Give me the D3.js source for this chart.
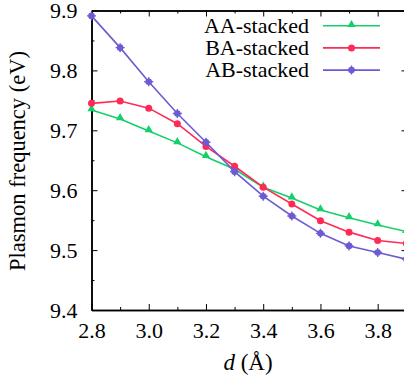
<!DOCTYPE html>
<html>
<head>
<meta charset="utf-8">
<script src="https://cdn.jsdelivr.net/npm/d3@7"></script>
<style>
  body { margin: 0; background: #fff; }
  svg text { font-family: "Liberation Serif" !important; }
</style>
</head>
<body>
<script>
var width = 404, height = 381

// interlayer distance d (Angstrom)
var dValues = [2.8, 2.9, 3.0, 3.1, 3.2, 3.3, 3.4, 3.5, 3.6, 3.7, 3.8, 3.9]
var aaStacked = [9.734, 9.719, 9.699, 9.679, 9.656, 9.635, 9.605, 9.587, 9.567, 9.554, 9.542, 9.531]
var baStacked = [9.745, 9.749, 9.737, 9.711, 9.673, 9.640, 9.605, 9.577, 9.549, 9.530, 9.516, 9.511]
var abStacked = [9.891, 9.838, 9.781, 9.728, 9.680, 9.631, 9.590, 9.557, 9.528, 9.507, 9.496, 9.485]

var xTicks = [2.8, 3.0, 3.2, 3.4, 3.6, 3.8]
var xMinor = [2.9, 3.1, 3.3, 3.5, 3.7, 3.9]
var yTicks = [9.4, 9.5, 9.6, 9.7, 9.8, 9.9]
var yMinor = [9.45, 9.55, 9.65, 9.75, 9.85]

var seriesNames = ["AA-stacked", "BA-stacked", "AB-stacked"]
var seriesColors = ["#14d06a", "#ff2a55", "#6d5bd3"]
var seriesData = [aaStacked, baStacked, abStacked]

var svg = d3.select("body").append("svg")
    .attr("width", width)
    .attr("height", height)
    .attr("font-family", "Liberation Serif")

var x = d3.scaleLinear().domain([2.8, 3.9]).range([91.5, 406.3])
var y = d3.scaleLinear().domain([9.4, 9.9]).range([310, 10.5])

function styleAxis(g) {
    g.attr("font-family", "Liberation Serif").attr("font-size", 22)
    g.selectAll("path").attr("stroke", "#000").attr("stroke-width", 1.5)
    g.selectAll("line").attr("stroke", "#000").attr("stroke-width", 1)
}

// bottom
svg.append("g").attr("transform", "translate(0,310)")
    .call(d3.axisBottom(x).tickValues(xTicks).tickSize(-6).tickSizeOuter(0).tickPadding(12).tickFormat(d3.format(".1f")))
    .call(styleAxis)
svg.append("g").attr("transform", "translate(0,310)")
    .call(d3.axisBottom(x).tickValues(xMinor).tickSize(-3).tickSizeOuter(0).tickFormat(""))
    .call(styleAxis)
// top
svg.append("g").attr("transform", "translate(0,10.5)")
    .call(d3.axisTop(x).tickValues(xTicks).tickSize(-6).tickSizeOuter(0).tickFormat(""))
    .call(styleAxis)
svg.append("g").attr("transform", "translate(0,10.5)")
    .call(d3.axisTop(x).tickValues(xMinor).tickSize(-3).tickSizeOuter(0).tickFormat(""))
    .call(styleAxis)
// left
svg.append("g").attr("transform", "translate(91.5,0)")
    .call(d3.axisLeft(y).tickValues(yTicks).tickSize(-6).tickSizeOuter(0).tickPadding(14).tickFormat(d3.format(".1f")))
    .call(styleAxis)
svg.append("g").attr("transform", "translate(91.5,0)")
    .call(d3.axisLeft(y).tickValues(yMinor).tickSize(-3).tickSizeOuter(0).tickFormat(""))
    .call(styleAxis)
// right (mostly outside the window)
svg.append("g").attr("transform", "translate(407.5,0)")
    .call(d3.axisRight(y).tickValues(yTicks).tickSize(-6).tickSizeOuter(0).tickFormat(""))
    .call(styleAxis)
svg.append("g").attr("transform", "translate(407.5,0)")
    .call(d3.axisRight(y).tickValues(yMinor).tickSize(-3).tickSizeOuter(0).tickFormat(""))
    .call(styleAxis)

// axis titles
svg.append("text")
    .attr("transform", "translate(25,161) rotate(-90)")
    .attr("text-anchor", "middle")
    .attr("font-size", 22.5)
    .text("Plasmon frequency (eV)")

var xlab = svg.append("text")
    .attr("x", 248).attr("y", 370)
    .attr("text-anchor", "middle")
    .attr("font-size", 23)
xlab.append("tspan").attr("font-style", "italic").text("d")
xlab.append("tspan").text(" (\u00c5)")

function drawMarker(g, i, cx, cy) {
    if (i == 0) {
        g.append("path")
            .attr("d", d3.symbol(d3.symbolTriangle, 30)())
            .attr("transform", "translate(" + cx + "," + (cy - 1) + ")")
            .attr("fill", seriesColors[i])
    } else if (i == 1) {
        g.append("circle").attr("cx", cx).attr("cy", cy).attr("r", 3.5)
            .attr("fill", seriesColors[i])
    } else {
        g.append("circle").attr("cx", cx).attr("cy", cy).attr("r", 3.3)
            .attr("fill", seriesColors[i])
        g.append("path")
            .attr("d", "M" + (cx - 4.5) + "," + cy + "H" + (cx + 4.5) + "M" + cx + "," + (cy - 4.5) + "V" + (cy + 4.5))
            .attr("stroke", seriesColors[i]).attr("stroke-width", 1.4)
    }
}

var line = d3.line()
    .x(function(d) { return x(d.d) })
    .y(function(d) { return y(d.v) })

seriesData.forEach(function(vals, i) {
    var pts = dValues.map(function(d, k) { return { d: d, v: vals[k] } })
    var g = svg.append("g")
    g.append("path")
        .datum(pts)
        .attr("d", line)
        .attr("fill", "none")
        .attr("stroke", seriesColors[i])
        .attr("stroke-width", 1.6)
    pts.forEach(function(p) { drawMarker(g, i, x(p.d), y(p.v)) })
})

// legend
seriesNames.forEach(function(name, i) {
    var ly = 25.7 + i * 22.2
    svg.append("text")
        .attr("x", 309).attr("y", ly + 7)
        .attr("text-anchor", "end")
        .attr("font-size", 22)
        .text(name)
    svg.append("line")
        .attr("x1", 323).attr("x2", 380)
        .attr("y1", ly).attr("y2", ly)
        .attr("stroke", seriesColors[i]).attr("stroke-width", 1.6)
    drawMarker(svg, i, 351.5, ly)
})
</script>
</body>
</html>
